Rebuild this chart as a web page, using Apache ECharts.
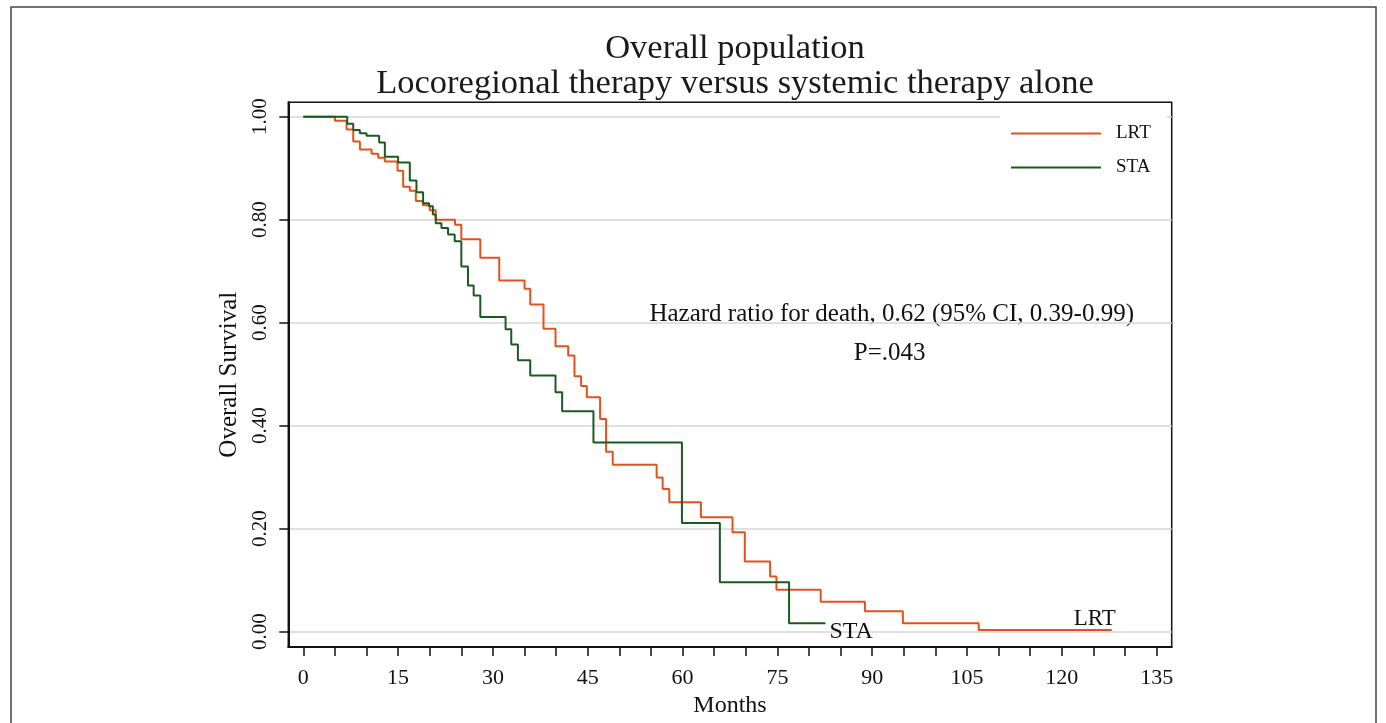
<!DOCTYPE html>
<html>
<head>
<meta charset="utf-8">
<script src="https://cdn.jsdelivr.net/npm/echarts@6/dist/echarts.min.js"></script>
<style>html,body{margin:0;padding:0;background:#fff;}#c{width:1386px;height:723px;}</style>
</head>
<body>
<div id="c"></div>
<script>
// ---- data ----
var lrtMonths = [0, 5.0, 6.85, 7.9, 8.95, 10.8, 11.85, 12.9, 14.9, 15.8, 16.85, 17.8, 18.9, 20.0, 20.95, 24.0, 25.0, 28.0, 31.0, 35.0, 35.9, 38.0, 39.9, 41.9, 42.9, 43.95, 44.85, 46.95, 47.9, 48.95, 55.9, 56.85, 57.9, 62.9, 67.9, 69.85, 73.85, 74.85, 81.85, 88.85, 94.85, 106.85, 127.9];
var lrtSurv   = [1.0, 0.992, 0.975, 0.952, 0.936, 0.928, 0.920, 0.913, 0.895, 0.864, 0.856, 0.836, 0.828, 0.818, 0.800, 0.790, 0.762, 0.726, 0.682, 0.666, 0.635, 0.588, 0.554, 0.536, 0.496, 0.477, 0.455, 0.413, 0.349, 0.324, 0.299, 0.277, 0.251, 0.222, 0.193, 0.136, 0.107, 0.081, 0.058, 0.0395, 0.016, 0.003, 0.003];
var staMonths = [0, 6.95, 7.9, 8.95, 10.0, 12.0, 12.9, 15.0, 16.85, 17.9, 18.95, 19.9, 20.5, 20.95, 21.85, 22.9, 23.95, 25.0, 26.05, 26.95, 28.0, 32.0, 32.9, 33.95, 35.9, 39.9, 40.95, 45.9, 59.9, 65.9, 76.85, 82.6];
var staSurv   = [1.0, 0.986, 0.974, 0.968, 0.963, 0.950, 0.922, 0.911, 0.876, 0.853, 0.832, 0.826, 0.810, 0.793, 0.784, 0.771, 0.758, 0.709, 0.672, 0.6525, 0.611, 0.587, 0.5575, 0.527, 0.4975, 0.465, 0.428, 0.367, 0.211, 0.0957, 0.0163, 0.0163];
var xTickLabels = [0, 15, 30, 45, 60, 75, 90, 105, 120, 135];
var xTicks = [0, 5, 10, 15, 20, 25, 30, 35, 40, 45, 50, 55, 60, 65, 70, 75, 80, 85, 90, 95, 100, 105, 110, 115, 120, 125, 130, 135];
var yTicks = [0, 0.2, 0.4, 0.6, 0.8, 1.0];
var seriesNames = ['LRT', 'STA'];
var titleLines = ['Overall population', 'Locoregional therapy versus systemic therapy alone'];
var annotationHR = 'Hazard ratio for death, 0.62 (95% CI, 0.39-0.99)';
var annotationP = 'P=.043';

function pairs(xs, ys) { return xs.map(function (x, i) { return [x, ys[i]]; }); }

var FONT = "'Liberation Serif', 'Times New Roman', serif";
var chart = echarts.init(document.getElementById('c'), null, { renderer: 'canvas' });
chart.setOption({
  animation: false,
  backgroundColor: '#fff',
  title: {
    text: titleLines.join('\n'),
    left: 730, top: 26, textAlign: 'center',
    textStyle: { fontFamily: FONT, fontSize: 34.5, fontWeight: 'normal', color: '#1a1a1a', lineHeight: 35 }
  },
  grid: {
    left: 288.3, top: 102.3, width: 883.4, height: 546,
    show: true, borderColor: '#111', borderWidth: 1.5, backgroundColor: 'transparent'
  },
  legend: {
    orient: 'vertical', left: 1000, top: 106,
    padding: [18, 16, 10, 11], itemGap: 15,
    backgroundColor: '#fff',
    itemWidth: 90, itemHeight: 2, icon: 'rect',
    data: seriesNames,
    textStyle: { fontFamily: FONT, fontSize: 19, color: '#111', padding: [0, 0, 0, 10] }
  },
  xAxis: {
    type: 'value', min: -2.373, max: 137.38,
    name: 'Months', nameLocation: 'middle', nameGap: 36,
    nameTextStyle: { fontFamily: FONT, fontSize: 24, color: '#111' },
    axisLine: { onZero: false, lineStyle: { color: '#111', width: 2 } },
    axisTick: { show: true, length: 9, customValues: xTicks, lineStyle: { color: '#111', width: 1.5 } },
    axisLabel: { customValues: xTickLabels, margin: 20, fontFamily: FONT, fontSize: 22, color: '#111' },
    splitLine: { show: false }
  },
  yAxis: {
    type: 'value', min: -0.0302, max: 1.0279,
    name: 'Overall Survival', nameLocation: 'middle', nameGap: 42, nameRotate: 90,
    nameTextStyle: { fontFamily: FONT, fontSize: 25, color: '#111' },
    axisLine: { onZero: false, lineStyle: { color: '#111', width: 2 } },
    axisTick: { show: true, length: 9, customValues: yTicks, lineStyle: { color: '#111', width: 1.5 } },
    axisLabel: { customValues: yTicks, rotate: 90, margin: 17, fontFamily: FONT, fontSize: 21, color: '#111',
      formatter: function (v) { return v.toFixed(2); } },
    splitLine: { show: true, lineStyle: { color: '#d6d6d6', width: 1.5 } }
  },
  series: [
    {
      name: seriesNames[0], type: 'line', step: 'end', symbol: 'none',
      data: pairs(lrtMonths, lrtSurv), color: '#E4521B',
      lineStyle: { width: 2, color: '#E4521B' }, z: 3,
      endLabel: { show: true, formatter: seriesNames[0], fontFamily: FONT, fontSize: 23, color: '#111',
        align: 'right', verticalAlign: 'bottom', offset: [-4, 0] }
    },
    {
      name: seriesNames[1], type: 'line', step: 'end', symbol: 'none',
      data: pairs(staMonths, staSurv), color: '#1B5A1F',
      lineStyle: { width: 2, color: '#1B5A1F' }, z: 4,
      endLabel: { show: true, formatter: seriesNames[1], fontFamily: FONT, fontSize: 24, color: '#111',
        align: 'left', verticalAlign: 'middle', offset: [-4, 9] }
    }
  ],
  graphic: [
    { type: 'rect', shape: { x: 11, y: 7, width: 1365, height: 740 }, style: { fill: 'none', stroke: '#444', lineWidth: 1.5 }, silent: true },
    { type: 'text', x: 891.7, y: 314, style: { text: annotationHR, font: "25px 'Liberation Serif', serif", fill: '#111', textAlign: 'center', textVerticalAlign: 'middle' } },
    { type: 'text', x: 889.7, y: 353, style: { text: annotationP, font: "25px 'Liberation Serif', serif", fill: '#111', textAlign: 'center', textVerticalAlign: 'middle' } }
  ]
});
</script>
</body>
</html>
